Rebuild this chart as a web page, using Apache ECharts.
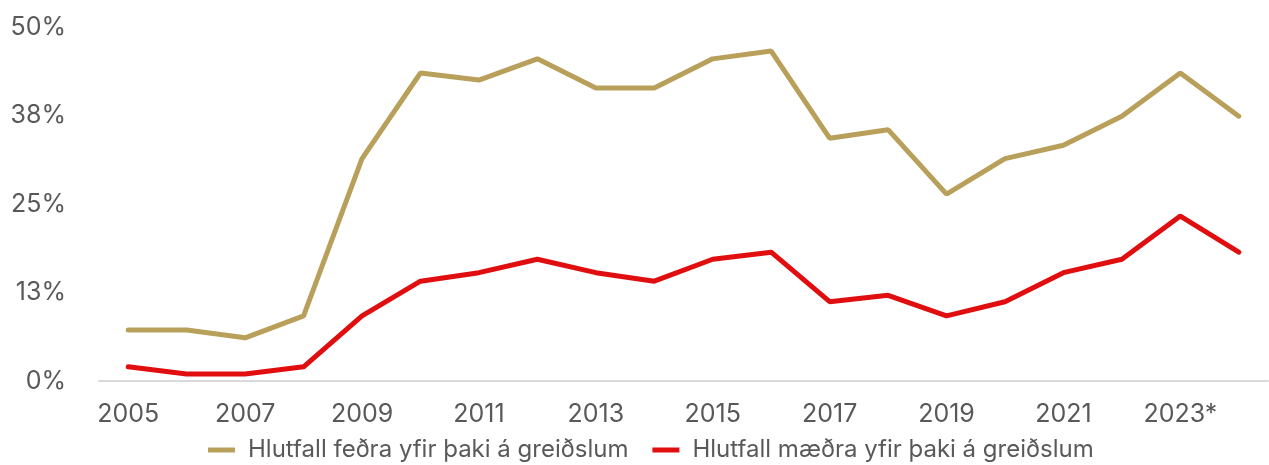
<!DOCTYPE html>
<html>
<head>
<meta charset="utf-8">
<script src="https://cdn.jsdelivr.net/npm/echarts@6/dist/echarts.min.js"></script>
<style>
  html, body { margin: 0; padding: 0; background: #fff; }
  #chart { width: 1269px; height: 465px; }
</style>
</head>
<body>
<div id="chart"></div>
<script>
// ár
var years = ["2005", "2006", "2007", "2008", "2009", "2010", "2011", "2012", "2013", "2014",
  "2015", "2016", "2017", "2018", "2019", "2020", "2021", "2022", "2023*", "2024*"];
// hlutfall feðra / mæðra (%)
var fathers = [7.2, 7.2, 6.1, 9.2, 31.4, 43.5, 42.5, 45.5, 41.4, 41.4,
  45.5, 46.6, 34.3, 35.5, 26.4, 31.4, 33.3, 37.4, 43.5, 37.4];
var mothers = [2.0, 1.0, 1.0, 2.0, 9.2, 14.1, 15.3, 17.2, 15.3, 14.1,
  17.2, 18.2, 11.2, 12.1, 9.2, 11.2, 15.3, 17.2, 23.3, 18.2];

var chart = echarts.init(document.getElementById("chart"));
var font = "Inter, 'Liberation Sans', sans-serif";

var option = {
  animation: false,
  textStyle: { fontFamily: font },
  grid: { left: 99, right: 1, top: 27, bottom: 84 },
  legend: {
    top: 433,
    left: 203,
    itemWidth: 27,
    itemHeight: 5,
    itemGap: 24,
    icon: "rect",
    textStyle: { fontSize: 24, color: "#595959", fontFamily: font, padding: [0, 0, 0, 8] },
    data: ["Hlutfall feðra yfir þaki á greiðslum", "Hlutfall mæðra yfir þaki á greiðslum"]
  },
  xAxis: {
    type: "category",
    data: years,
    axisTick: { show: false },
    axisLine: { lineStyle: { color: "#d9d9d9", width: 2 } },
    axisLabel: { interval: 1, fontSize: 25, color: "#595959", margin: 21 }
  },
  yAxis: {
    type: "value",
    min: 0,
    max: 50,
    interval: 12.5,
    splitLine: { show: false },
    axisLabel: {
      fontSize: 25,
      color: "#595959",
      margin: 33,
      formatter: function (v) { return Math.round(v) + "%"; }
    }
  },
  series: [
    {
      name: "Hlutfall feðra yfir þaki á greiðslum",
      type: "line",
      data: fathers,
      showSymbol: false,
      color: "#b89f5a",
      lineStyle: { width: 5, color: "#b89f5a", cap: "round" }
    },
    {
      name: "Hlutfall mæðra yfir þaki á greiðslum",
      type: "line",
      data: mothers,
      showSymbol: false,
      color: "#e00e0e",
      lineStyle: { width: 5, color: "#e00e0e", cap: "round" }
    }
  ]
};

chart.setOption(option);
</script>
</body>
</html>
